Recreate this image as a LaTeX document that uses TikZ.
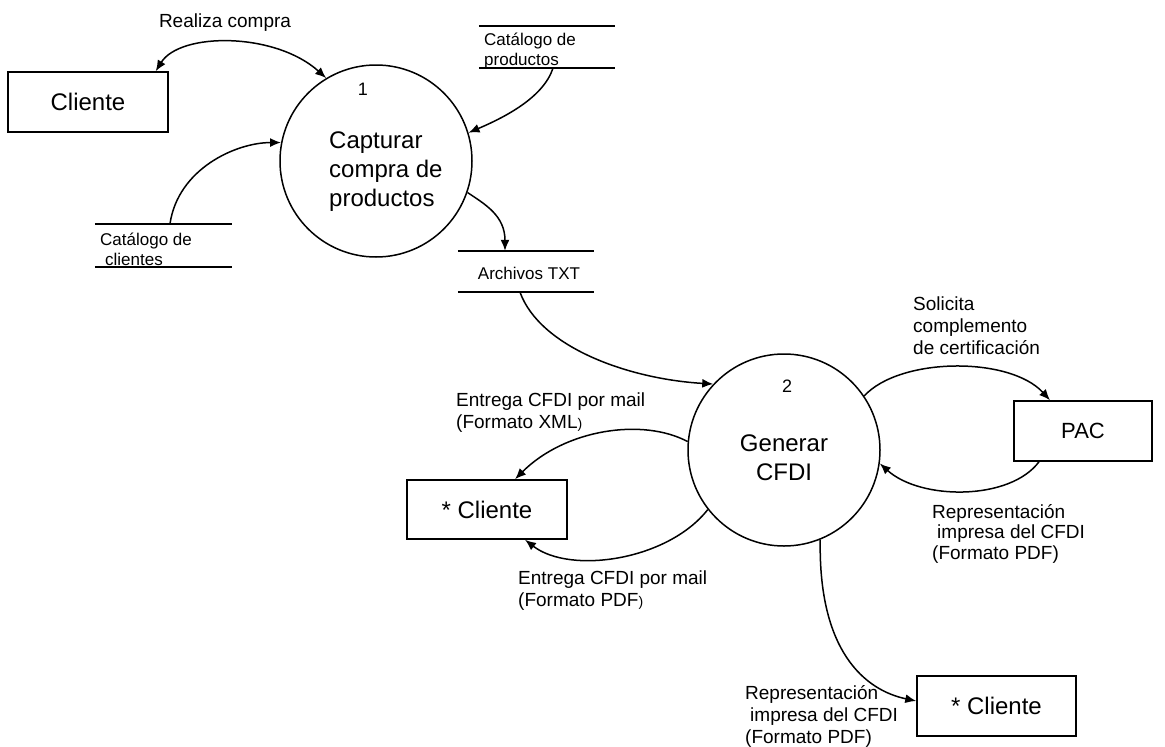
\documentclass[tikz,border=0pt]{standalone}
\usepackage{fontspec}
\setmainfont{Liberation Sans}
\usetikzlibrary{arrows.meta}
\tikzset{
  entity/.style={draw, rectangle, line width=1.5pt, inner sep=0pt, font=\fontsize{24}{29}\selectfont},
  proc/.style={draw, circle, minimum size=192pt, inner sep=0pt, line width=1.5pt},
  store/.style={rectangle, inner sep=0pt},
  storeline/.style={line width=1.5pt},
  flow/.style={line width=1.5pt, -{Latex[length=11pt,width=9pt]}},
  bflow/.style={line width=1.5pt, {Latex[length=11pt,width=9pt]}-{Latex[length=11pt,width=9pt]}},
  lbl/.style={font=\fontsize{19}{22}\selectfont, align=left, inner sep=0pt, anchor=west},
  slbl/.style={font=\fontsize{17}{20}\selectfont, align=left, inner sep=0pt, anchor=west},
  big/.style={font=\fontsize{24}{29}\selectfont, align=left, inner sep=0pt},
  num/.style={font=\fontsize{18}{22}\selectfont, inner sep=0pt}
}
\newcommand{\smallparen}{{\fontsize{14}{14}\selectfont )}}
\begin{document}
\begin{tikzpicture}[x=1pt, y=-1pt]
\useasboundingbox[fill=white] (0,0) rectangle (1165,747);

% entities
\node[entity, minimum width=160pt, minimum height=60pt] (cliente1) at (88,102) {Cliente};
\node[entity, minimum width=160pt, minimum height=59pt] (cliente2) at (487,509.5) {* Cliente};
\node[entity, minimum width=159pt, minimum height=60pt] (cliente3) at (996.5,706) {* Cliente};
\node[entity, minimum width=138pt, minimum height=60pt, font=\fontsize{22}{26}\selectfont] (pac) at (1083,431) {PAC};

% processes
\node[proc] (p1) at (376,161) {};
\node[num] (n1) at (363,89) {1};
\node[big, anchor=west] (t1) at (329,172) {Capturar\\compra de\\productos};

\node[proc] (p2) at (784,450) {};
\node[num] (n2) at (787,386) {2};
\node[big, align=center] (t2) at (784,458) {Generar\\CFDI};

% data stores
\node[store, minimum width=136pt, minimum height=42pt] (cprod) at (547,47) {};
\draw[storeline] (cprod.north west) -- (cprod.north east) (cprod.south west) -- (cprod.south east);
\node[slbl] (cprodt) at (484,51) {Catálogo de\\productos};

\node[store, minimum width=137pt, minimum height=43pt] (ccli) at (163.5,245.5) {};
\draw[storeline] (ccli.north west) -- (ccli.north east) (ccli.south west) -- (ccli.south east);
\node[slbl] (cclit) at (100,249) {Catálogo de\\\hspace*{5pt}clientes};

\node[store, minimum width=136pt, minimum height=41pt] (ctxt) at (526,271.5) {};
\draw[storeline] (ctxt.north west) -- (ctxt.north east) (ctxt.south west) -- (ctxt.south east);
\node[slbl, anchor=center] (ctxtt) at (529,273) {Archivos TXT};

% flows
\draw[bflow] ([xshift=-13pt]cliente1.north east) .. controls (180,32) and (275,32) .. (p1.121);
\node[lbl, anchor=center] (lrc) at (225,23) {Realiza compra};

\draw[flow] ([xshift=6pt]cprod.south) .. controls +(-10,30) and +(35,-15) .. (p1.17);
\draw[flow] ([xshift=6.5pt]ccli.north) .. controls +(8,-55) and +(-45,0) .. (p1.169);
\draw[flow] (p1.-19) .. controls +(18,12) and +(0,-35) .. ([xshift=-21pt]ctxt.north);
\draw[flow] ([xshift=-6pt]ctxt.south) .. controls +(20,55) and +(-85,-5) .. (p2.137);

\draw[flow] (p2.175) .. controls +(-45,-24) and +(50,-50) .. ([xshift=28pt]cliente2.north);
\node[lbl] (lxml) at (456,413) {Entrega CFDI por mail\\(Formato XML\smallparen};

\draw[flow] (p2.218) .. controls +(-40,51) and +(45,35) .. ([xshift=38pt]cliente2.south);
\node[lbl] (lpdf) at (518,591) {Entrega CFDI por mail\\(Formato PDF\smallparen};

\draw[flow] (p2.34) .. controls +(36,-39) and +(-40,-44) .. ([xshift=-33pt]pac.north);
\node[lbl] (lsol) at (913,325.5) {Solicita\\complemento\\de certificación};

\draw[flow] ([xshift=-44pt]pac.south) .. controls +(-29,39) and +(41,37) .. (p2.-8);
\node[lbl, font=\fontsize{19}{20.5}\selectfont] (lrep1) at (932,533.5) {Representación\\\hspace*{5pt}impresa del CFDI\\(Formato PDF)};

\draw[flow] (p2.-68) .. controls +(-2,111) and +(-52,-11) .. ([yshift=5pt]cliente3.west);
\node[lbl] (lrep2) at (745,716) {Representación\\\hspace*{5pt}impresa del CFDI\\(Formato PDF)};
\end{tikzpicture}
\end{document}
